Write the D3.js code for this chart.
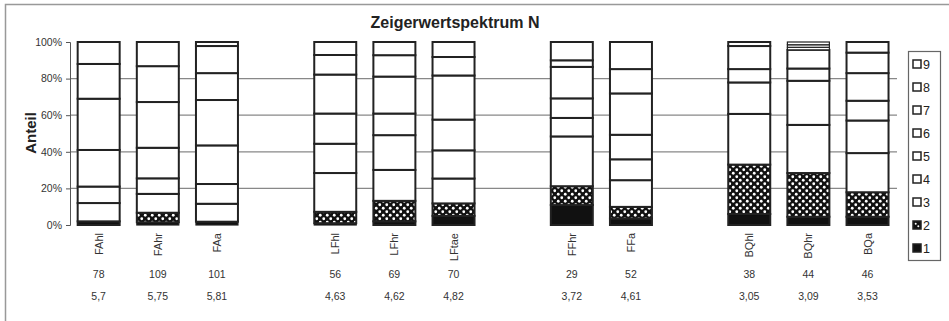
<!DOCTYPE html>
<html><head><meta charset="utf-8">
<script src="https://cdn.jsdelivr.net/npm/d3@7"></script>
<style>body{margin:0;background:#fff}svg{display:block;font-family:"Liberation Sans",Arial,sans-serif}</style>
</head><body><svg id="c" width="949" height="321"></svg>
<script>
// slots (gaps are blank slots, keys start with "_")
const slots = ["FAhl","FAhr","FAa","_1","LFhl","LFhr","LFtae","_2","FFhr","FFa","_3","BQhl","BQhr","BQa"];
const categories = ["FAhl","FAhr","FAa","LFhl","LFhr","LFtae","FFhr","FFa","BQhl","BQhr","BQa"];
const countRow = ["78","109","101","56","69","70","29","52","38","44","46"];
const meanRow = ["5,7","5,75","5,81","4,63","4,62","4,82","3,72","4,61","3,05","3,09","3,53"];
const levels = ["1","2","3","4","5","6","7","8","9"];
// percentage share of each indicator value per category
const v1 = [2, 1.5, 1.8, 1, 2, 5, 10.9, 3.6, 6, 4.5, 4.5];
const v2 = [0, 5.2, 0, 6.2, 11.2, 6.8, 10.3, 6.3, 27, 23.9, 13.4];
const v3 = [10, 10.3, 9.8, 21.2, 16.9, 13.6, 27.2, 14.6, 27.7, 26.3, 21.4];
const v4 = [9, 8.5, 10.8, 16, 19, 15.4, 10.1, 11.4, 17.2, 24.1, 17.8];
const v5 = [20, 16.7, 21.1, 16.5, 11.8, 16.8, 10.7, 13.4, 7.3, 6.7, 10.8];
const v6 = [28, 25, 24.8, 21.3, 20.2, 24.1, 17.2, 22.6, 12.6, 10.2, 15.1];
const v7 = [19, 19.6, 14.7, 10.7, 11.7, 10.1, 3.6, 13.3, 2.2, 1.4, 11.2];
const v8 = [12, 13.2, 14.8, 7.1, 7.2, 8.2, 0, 14.8, 0, 1.4, 5.8];
const v9 = [0, 0, 2.2, 0, 0, 0, 10, 0, 0, 1.5, 0];
const series = [v1,v2,v3,v4,v5,v6,v7,v8,v9];
const yTicks = [0,20,40,60,80,100];

const svg = d3.select("#c");
const defs = svg.append("defs");
const pat = defs.append("pattern").attr("id","dots").attr("patternUnits","userSpaceOnUse")
  .attr("width",7).attr("height",7);
pat.append("rect").attr("width",7).attr("height",7).attr("fill","#111");
pat.append("circle").attr("cx",1.75).attr("cy",1.75).attr("r",1.4).attr("fill","#fff");
pat.append("circle").attr("cx",5.25).attr("cy",5.25).attr("r",1.4).attr("fill","#fff");
const fillFor = k => k==="1" ? "#111" : (k==="2" ? "url(#dots)" : "#fff");

// outer frame
svg.append("path").attr("d","M5.5,330V4.5H949").attr("fill","none").attr("stroke","#999").attr("stroke-width",1.5);

const x = d3.scaleBand().domain(slots).range([69.1, 897.1]).paddingInner(0.29).paddingOuter(0.145);
const y = d3.scaleLinear().domain([0,100]).range([225, 42]);

// grid
svg.append("g").selectAll("line").data(yTicks.filter(t=>t>0 && t<100)).join("line")
  .attr("x1",70).attr("x2",897).attr("y1",d=>y(d)).attr("y2",d=>y(d))
  .attr("stroke","#888").attr("stroke-width",1.3);

// y axis
const ya = svg.append("g").attr("transform","translate(70,0)")
  .call(d3.axisLeft(y).tickValues(yTicks).tickSize(4).tickFormat(d=>d+"%"));
ya.select(".domain").attr("stroke","#555");
ya.selectAll(".tick line").attr("stroke","#555");
ya.selectAll(".tick text").attr("font-size","10.5px").attr("fill","#333").attr("x",-8)
  .attr("font-family","Liberation Sans, Arial, sans-serif");

// stacked bars
const table = categories.map((c,i)=>{const o={cat:c}; levels.forEach((k,j)=>o[k]=series[j][i]); return o;});
const stacked = d3.stack().keys(levels)(table);
const g = svg.append("g");
stacked.forEach(layer=>{
  g.append("g").selectAll("rect").data(layer.filter(d=>d[1]-d[0]>0)).join("rect")
    .attr("x",d=>x(d.data.cat)).attr("width",x.bandwidth())
    .attr("y",d=>y(d[1])).attr("height",d=>y(d[0])-y(d[1]))
    .attr("fill",fillFor(layer.key)).attr("stroke","#222").attr("stroke-width",d=>(d[1]-d[0])<2?1.2:2);
});

// category labels
svg.append("g").selectAll("text").data(categories).join("text")
  .attr("transform",d=>`translate(${x(d)+x.bandwidth()/2+4},233) rotate(-90)`)
  .attr("text-anchor","end").attr("font-size","11px").attr("fill","#333").text(d=>d);
svg.append("g").selectAll("text").data(categories).join("text")
  .attr("x",(d,i)=>x(d)+x.bandwidth()/2).attr("y",278).attr("text-anchor","middle")
  .attr("font-size","10.5px").attr("fill","#333").text((d,i)=>countRow[i]);
svg.append("g").selectAll("text").data(categories).join("text")
  .attr("x",(d,i)=>x(d)+x.bandwidth()/2).attr("y",300).attr("text-anchor","middle")
  .attr("font-size","10.5px").attr("fill","#333").text((d,i)=>meanRow[i]);

// titles
svg.append("text").attr("x",455).attr("y",28).attr("text-anchor","middle")
  .attr("font-weight","bold").attr("font-size","16px").attr("fill","#222").text("Zeigerwertspektrum N");
svg.append("text").attr("transform","translate(36,133) rotate(-90)").attr("text-anchor","middle")
  .attr("font-weight","bold").attr("font-size","15px").attr("fill","#222").text("Anteil");

// legend
svg.append("rect").attr("x",908.5).attr("y",51.5).attr("width",32).attr("height",209)
  .attr("fill","#fff").attr("stroke","#666").attr("stroke-width",1.2);
const ly = d3.scalePoint().domain(levels.slice().reverse()).range([64,248]);
const lg = svg.append("g").selectAll("g").data(levels.slice().reverse()).join("g")
  .attr("transform",d=>`translate(913,${ly(d)})`);
lg.append("rect").attr("x",0).attr("y",-4).attr("width",8).attr("height",8)
  .attr("fill",d=>d==="2"?"#111":fillFor(d)).attr("stroke","#222").attr("stroke-width",1.5);
lg.filter(d=>d==="2").append("circle").attr("cx",2.7).attr("cy",-1.3).attr("r",1).attr("fill","#fff");
lg.filter(d=>d==="2").append("circle").attr("cx",5.3).attr("cy",1.3).attr("r",1).attr("fill","#fff");
lg.append("text").attr("x",10).attr("y",4.5).attr("font-size","12.5px").attr("fill","#222").text(d=>d);
</script></body></html>
